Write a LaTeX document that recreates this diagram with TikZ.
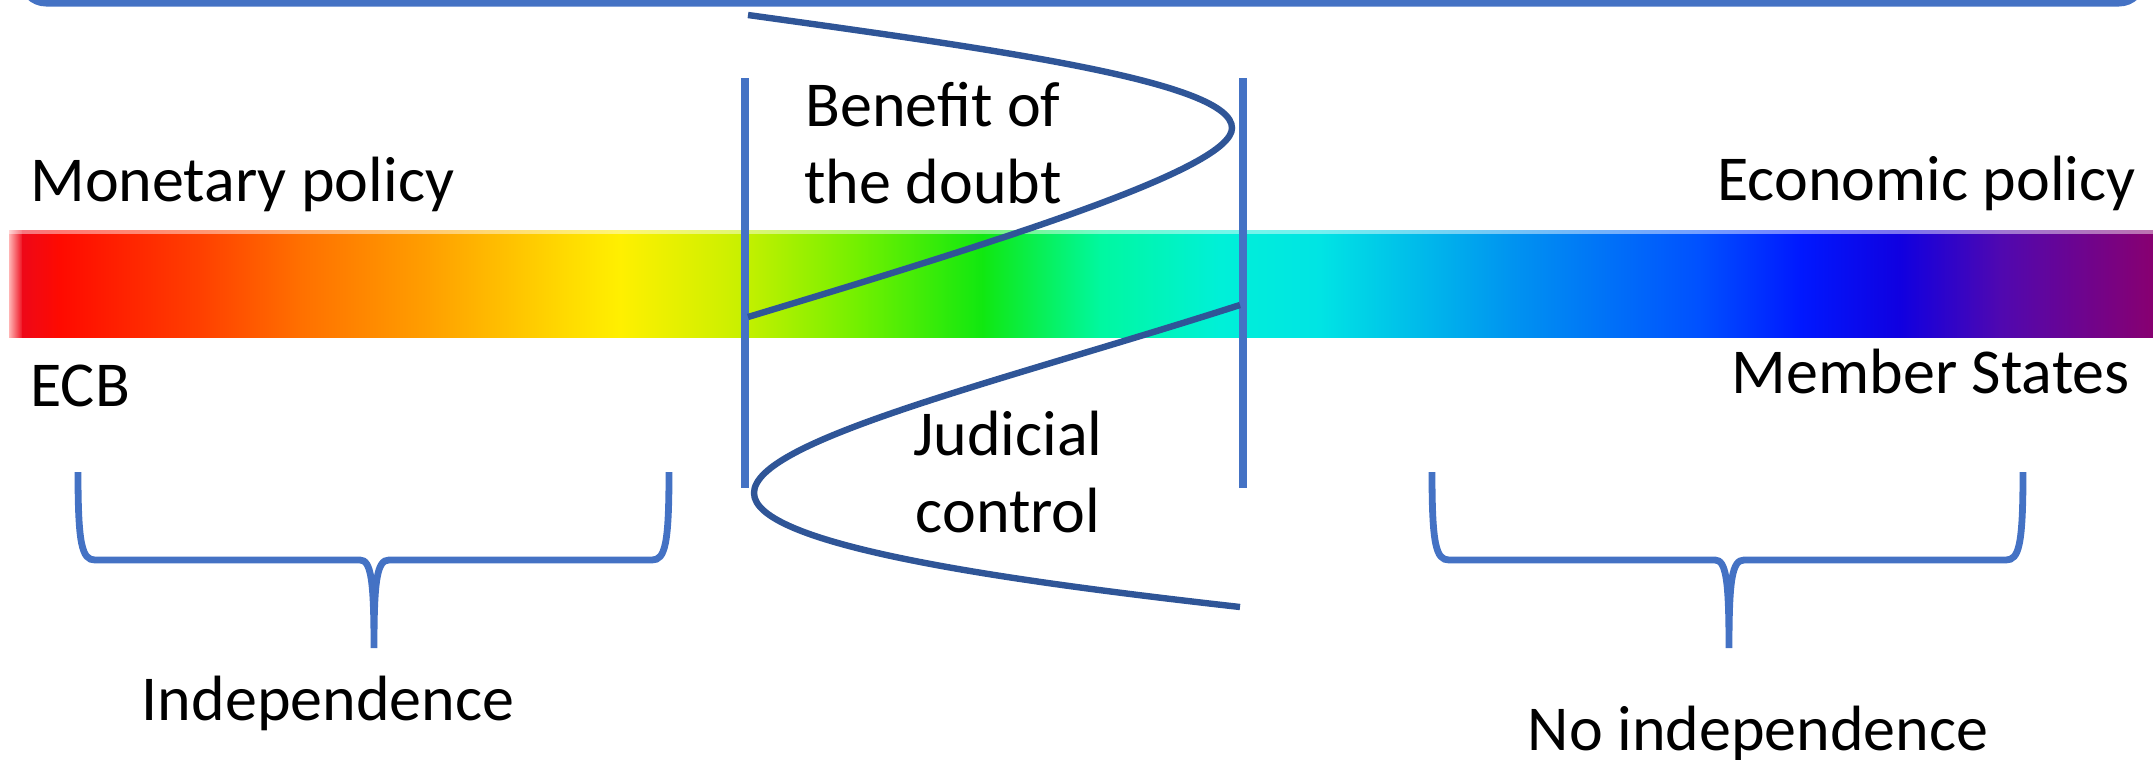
\documentclass[tikz,border=0pt]{standalone}
\usepackage{fontspec}
\setmainfont{Carlito}
\definecolor{lblue}{HTML}{4472C4}
\definecolor{dblue}{HTML}{2F5597}
\definecolor{g0}{HTML}{FFB4B4}
\definecolor{g1}{HTML}{EE0818}
\definecolor{g2}{HTML}{FF0A00}
\definecolor{g3}{HTML}{FF4000}
\definecolor{g4}{HTML}{FF7000}
\definecolor{g5}{HTML}{FFA000}
\definecolor{g6}{HTML}{FFD800}
\definecolor{g7}{HTML}{FFF000}
\definecolor{g8}{HTML}{C8F000}
\definecolor{g9}{HTML}{70F000}
\definecolor{g10}{HTML}{10E810}
\definecolor{g11}{HTML}{00F8A0}
\definecolor{g12}{HTML}{00F0D8}
\definecolor{g13}{HTML}{00E4E4}
\definecolor{g14}{HTML}{0094F0}
\definecolor{g15}{HTML}{0050FF}
\definecolor{g16}{HTML}{0018FF}
\definecolor{g17}{HTML}{1000E0}
\definecolor{g18}{HTML}{5008B0}
\definecolor{g19}{HTML}{880070}
\begin{document}
\begin{tikzpicture}[x=0.5pt,y=-0.5pt,
  lbl/.style={inner sep=0pt, font=\fontsize{32}{38}\selectfont},
  divider/.style={draw=lblue, line width=4.2pt},
  sline/.style={draw=dblue, line width=3.2pt},
  bracepath/.style={draw=lblue, line width=3.4pt},
  topbox/.style={draw=lblue, line width=3.5pt, rounded corners=12pt}]
\useasboundingbox (0,0) rectangle (2153,760);
% top box (cut off)
\draw[topbox] (22,-80) rectangle (2143,3);
% spectrum bar
\foreach \xa/\ca/\xb/\cb in {9/g0/22/g1, 22/g1/60/g2, 60/g2/200/g3, 200/g3/300/g4, 300/g4/430/g5, 430/g5/560/g6, 560/g6/620/g7, 620/g7/740/g8, 740/g8/860/g9, 860/g9/982/g10, 982/g10/1100/g11, 1100/g11/1220/g12, 1220/g12/1320/g13, 1320/g13/1510/g14, 1510/g14/1700/g15, 1700/g15/1800/g16, 1800/g16/1900/g17, 1900/g17/2000/g18, 2000/g18/2153/g19}
  \shade[left color=\ca, right color=\cb] (\xa,230) rectangle ({\xb+1},337);
\fill[white, opacity=0.45] (9,230) rectangle (2153,234);
% labels
\node[lbl, anchor=base west] (mon) at (30,201) {Monetary policy};
\node[lbl, anchor=base east] (eco) at (2136,200) {Economic policy};
\node[lbl, anchor=base west] (ecb) at (30,406) {ECB};
\node[lbl, anchor=base east] (mem) at (2130,393) {Member States};
\node[lbl, anchor=base] (ben1) at (933,126) {Benefit of};
\node[lbl, anchor=base] (ben2) at (933,203) {the doubt};
\node[lbl, anchor=base] (jud1) at (1008,455) {Judicial};
\node[lbl, anchor=base] (jud2) at (1008,532) {control};
\node[lbl, anchor=base] (ind) at (328,720) {Independence};
\node[lbl, anchor=base] (noind) at (1758,750) {No independence};
% vertical dividers
\coordinate (lt) at (745,78); \coordinate (lb) at (745,488);
\coordinate (rt) at (1243,78); \coordinate (rb) at (1243,488);
\draw[divider] (lt) -- (lb);
\draw[divider] (rt) -- (rb);
% S-curves
\coordinate (u0) at (748,15); \coordinate (u1) at (1232,128); \coordinate (u2) at (748,317);
\draw[sline] (u0) .. controls (1000,50) and (1232,82) .. (u1)
  .. controls (1232,168) and (1010,238) .. (u2);
\coordinate (w0) at (1240,305); \coordinate (w1) at (754,493); \coordinate (w2) at (1240,607);
\draw[sline] (w0) .. controls (1000,382) and (754,440) .. (w1)
  .. controls (754,545) and (1000,580) .. (w2);
% braces
\coordinate (b1a) at (78,472); \coordinate (b1t) at (374,648); \coordinate (b1b) at (669,472);
\draw[bracepath] (b1a) .. controls (78,545) and (82,560) .. (95,560) -- (360,560)
  .. controls (371,560) and (374,580) .. (b1t)
  .. controls (374,580) and (377,560) .. (389,560) -- (652,560)
  .. controls (665,560) and (669,545) .. (b1b);
\coordinate (b2a) at (1432,472); \coordinate (b2t) at (1729,648); \coordinate (b2b) at (2023,472);
\draw[bracepath] (b2a) .. controls (1432,545) and (1436,560) .. (1449,560) -- (1715,560)
  .. controls (1726,560) and (1729,580) .. (b2t)
  .. controls (1729,580) and (1732,560) .. (1744,560) -- (2006,560)
  .. controls (2019,560) and (2023,545) .. (b2b);
\end{tikzpicture}
\end{document}
